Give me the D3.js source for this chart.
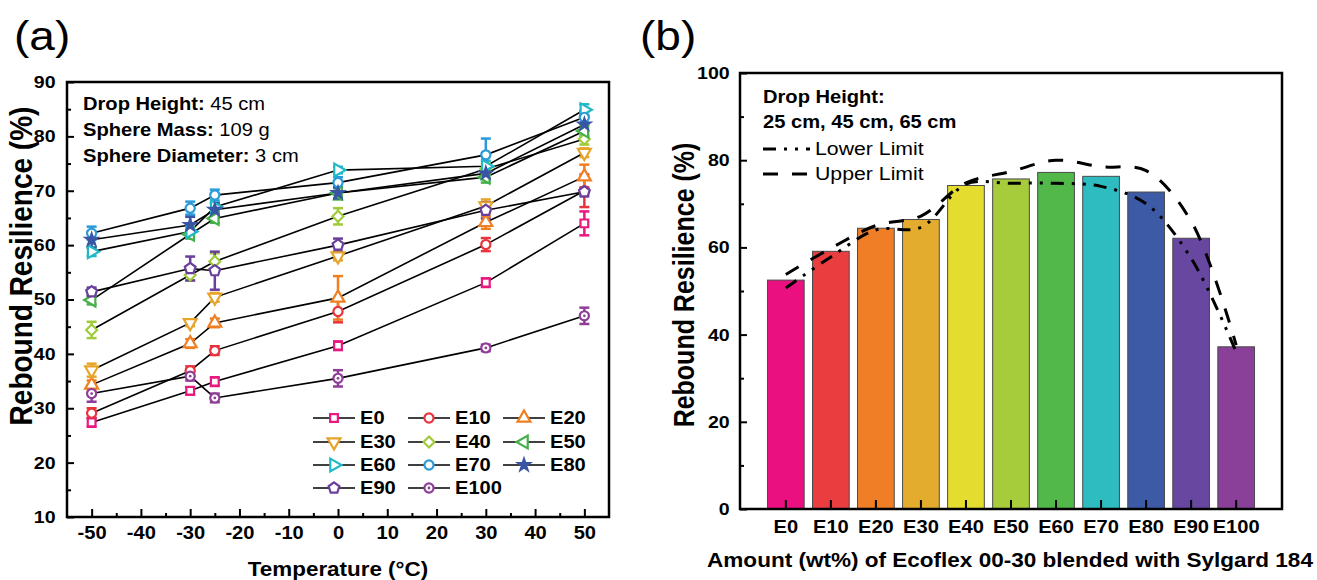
<!DOCTYPE html>
<html>
<head>
<meta charset="utf-8">
<script src="https://cdn.jsdelivr.net/npm/d3@7"></script>
<style>
body { margin: 0; background: #fff; }
svg { display: block; font-family: "Liberation Sans", Arial, sans-serif; }
</style>
</head>
<body>
<svg id="chart" width="1317" height="580"></svg>
<script>
'use strict';

/***************************************
 * DATA - panel (a): rebound resilience vs temperature
 ***************************************/
var temperatures = [-50, -30, -25, 0, 30, 50];

var E0   = [27.4, 33.2, 34.9, 41.5, 53.1, 64.0];
var E10  = [29.1, 36.9, 40.6, 47.8, 60.1, 70.0];
var E20  = [34.3, 41.9, 45.7, 50.3, 64.2, 72.6];
var E30  = [37.0, 45.7, 50.4, 58.0, 67.2, 77.0];
var E40  = [44.4, 54.5, 57.0, 65.3, 74.0, 79.5];
var E50  = [49.9, 62.0, 64.9, 69.6, 72.5, 81.0];
var E60  = [58.8, 62.5, 67.0, 73.8, 74.5, 84.9];
var E70  = [62.2, 66.8, 69.2, 71.5, 76.6, 83.5];
var E80  = [61.0, 63.7, 66.5, 69.6, 73.2, 82.2];
var E90  = [51.4, 55.7, 55.3, 60.0, 66.4, 69.8];
var E100 = [32.7, 35.9, 31.9, 35.5, 41.1, 47.0];

//error bar half-widths
var E0err   = [0.8, 0.7, 0.8, 0.8, 0.8, 2.2];
var E10err  = [0.9, 0.8, 0.8, 2.0, 1.2, 3.0];
var E20err  = [0.8, 0.8, 0.8, 4.0, 1.2, 2.2];
var E30err  = [1.2, 0.6, 0.8, 0.8, 1.2, 0.8];
var E40err  = [1.5, 1.0, 1.5, 1.5, 1.0, 1.0];
var E50err  = [0.8, 0.8, 0.8, 1.2, 1.0, 1.0];
var E60err  = [0.8, 0.8, 0.8, 0.6, 1.0, 1.0];
var E70err  = [1.2, 1.2, 1.0, 1.0, 3.0, 1.0];
var E80err  = [1.5, 1.5, 1.2, 1.0, 1.0, 2.5];
var E90err  = [0.8, 2.2, 3.5, 1.2, 1.5, 0.8];
var E100err = [1.5, 0.8, 0.8, 1.5, 0.6, 1.5];

var seriesNames = ['E0','E10','E20','E30','E40','E50','E60','E70','E80','E90','E100'];
var seriesValues = [E0, E10, E20, E30, E40, E50, E60, E70, E80, E90, E100];
var seriesErrors = [E0err, E10err, E20err, E30err, E40err, E50err, E60err, E70err, E80err, E90err, E100err];
var seriesColors = ['#e8197f','#e8343c','#f07f22','#e6a52a','#9fcb3a','#45b04a',
	'#22b9c6','#2b9ad8','#3a55a4','#6a3f9b','#8e3e96'];
var seriesShapes = ['square','circle','up','down','diamond','left','right','circle','star','pentagon','dotcircle'];

/***************************************
 * DATA - panel (b): rebound resilience per blend
 ***************************************/
var blends = ['E0','E10','E20','E30','E40','E50','E60','E70','E80','E90','E100'];
var meanResilience = [52.5, 59.1, 64.4, 66.4, 74.2, 75.7, 77.2, 76.3, 72.7, 62.1, 37.2];
var lowerLimit = [50.7, 57.8, 64.0, 64.6, 74.5, 74.7, 74.7, 74.0, 70.0, 57.5, 36.0];
var upperLimit = [53.8, 59.8, 65.0, 67.2, 74.8, 77.4, 80.0, 78.5, 77.6, 66.0, 37.6];
var barColors = ['#ea107f','#ea3d3f','#ef7e27','#e3ac2e','#e4dc2f','#a7cc3b',
	'#52b84a','#2ebcc0','#3d5aa7','#6747a0','#8a3f98'];

/***************************************
 * COMMON
 ***************************************/
var FONT = '"Liberation Sans", Arial, sans-serif';
var SX = 1.15; //source figure is a bit wider than tall, stretch text to match
var svg = d3.select('#chart');

//put a text at x,y with horizontal stretch
function placeText(g, x, y, txt, size, weight, anchor) {
	return g.append('text')
		.attr('transform', 'translate(' + x + ',' + y + ') scale(' + SX + ',1)')
		.attr('text-anchor', anchor || 'start')
		.style('font-size', size + 'px')
		.style('font-weight', weight || 'normal')
		.text(txt);
}

//rotated axis title, stretched across the glyphs
function placeYTitle(g, x, y, txt, size) {
	return g.append('text')
		.attr('transform', 'translate(' + x + ',' + y + ') rotate(-90) scale(1,' + SX + ')')
		.attr('text-anchor', 'middle')
		.style('font-size', size + 'px').style('font-weight', 'bold')
		.text(txt);
}

//style axis: no domain, thick ticks, bold labels
function styleAxis(g, size) {
	g.select('.domain').remove();
	g.attr('font-family', FONT);
	g.selectAll('.tick line').attr('stroke', '#000').attr('stroke-width', 2);
	g.selectAll('.tick text')
		.attr('fill', '#000')
		.style('font-size', size + 'px')
		.style('font-weight', 'bold');
}

//plain hyphen minus, like the source
function plainNum(d) { return String(d); }

/***************************************
 * MARKERS
 ***************************************/
var pentagonType = {
	draw: function(ctx, size) {
		var r = Math.sqrt(size / 2.378);
		for (var k = 0; k < 5; k++) {
			var ang = -Math.PI / 2 + k * 2 * Math.PI / 5;
			if (k === 0) ctx.moveTo(r * Math.cos(ang), r * Math.sin(ang));
			else ctx.lineTo(r * Math.cos(ang), r * Math.sin(ang));
		}
		ctx.closePath();
	}
};

function drawMarker(g, shape, color, x, y) {
	var m = g.append('g').attr('transform', 'translate(' + x + ',' + y + ')');
	var sym = d3.symbol();
	var rot = 0;
	if (shape === 'square') sym.type(d3.symbolSquare).size(60);
	else if (shape === 'circle') sym.type(d3.symbolCircle).size(66);
	else if (shape === 'dotcircle') sym.type(d3.symbolCircle).size(66);
	else if (shape === 'diamond') sym.type(d3.symbolDiamond2).size(76);
	else if (shape === 'star') sym.type(d3.symbolStar).size(40);
	else if (shape === 'pentagon') sym.type(pentagonType).size(76);
	else {
		sym.type(d3.symbolTriangle).size(72);
		rot = {up: 0, down: 180, left: -90, right: 90}[shape];
	}
	m.append('path')
		.attr('d', sym())
		.attr('transform', 'rotate(' + rot + ')')
		.attr('fill', shape === 'star' ? color : '#fff')
		.attr('stroke', color)
		.attr('stroke-width', 2.2);
	if (shape === 'dotcircle')
		m.append('circle').attr('r', 1.4).attr('fill', color);
	return m;
}

/***************************************
 * PANEL (a)
 ***************************************/
var aBox = {left: 67, right: 609, top: 82, bottom: 517};
var xA = d3.scaleLinear().domain([-55, 55]).range([aBox.left, aBox.right]);
var yA = d3.scaleLinear().domain([10, 90]).range([aBox.bottom, aBox.top]);
var gA = svg.append('g');

//x axis, ticks pointing inward
var xAxisA = gA.append('g').attr('transform', 'translate(0,' + aBox.bottom + ')')
	.call(d3.axisBottom(xA).tickValues(d3.range(-50, 51, 10)).tickFormat(plainNum).tickSize(-8).tickPadding(10));
styleAxis(xAxisA, 17.5);
xAxisA.selectAll('.tick text').attr('transform', 'scale(' + SX + ',1)');
gA.append('g').attr('transform', 'translate(0,' + aBox.bottom + ')')
	.call(d3.axisBottom(xA).tickValues(d3.range(-45, 50, 10)).tickSize(-4).tickFormat(''))
	.call(function(g) { styleAxis(g, 17); });

//y axis
var yAxisA = gA.append('g').attr('transform', 'translate(' + aBox.left + ',0)')
	.call(d3.axisLeft(yA).tickValues(d3.range(10, 91, 10)).tickFormat(plainNum).tickSize(-7).tickPadding(10));
styleAxis(yAxisA, 17);
yAxisA.selectAll('.tick text').attr('transform', 'scale(' + SX + ',1)');
gA.append('g').attr('transform', 'translate(' + aBox.left + ',0)')
	.call(d3.axisLeft(yA).tickValues(d3.range(15, 90, 10)).tickSize(-4).tickFormat(''))
	.call(function(g) { styleAxis(g, 17); });

//connecting lines
var lineA = d3.line()
	.x(function(d, i) { return xA(temperatures[i]); })
	.y(function(d) { return yA(d); });
seriesValues.forEach(function(vals) {
	gA.append('path').attr('d', lineA(vals))
		.attr('fill', 'none').attr('stroke', '#000').attr('stroke-width', 1.6);
});

//error bars
seriesValues.forEach(function(vals, s) {
	vals.forEach(function(v, i) {
		var x = xA(temperatures[i]);
		var e = seriesErrors[s][i];
		var eg = gA.append('g').attr('stroke', seriesColors[s]).attr('stroke-width', 2.5);
		eg.append('line').attr('x1', x).attr('x2', x).attr('y1', yA(v - e)).attr('y2', yA(v + e));
		eg.append('line').attr('x1', x - 5).attr('x2', x + 5).attr('y1', yA(v - e)).attr('y2', yA(v - e));
		eg.append('line').attr('x1', x - 5).attr('x2', x + 5).attr('y1', yA(v + e)).attr('y2', yA(v + e));
	});
});

//markers
seriesValues.forEach(function(vals, s) {
	vals.forEach(function(v, i) {
		drawMarker(gA, seriesShapes[s], seriesColors[s], xA(temperatures[i]), yA(v));
	});
});

//frame
gA.append('rect')
	.attr('x', aBox.left).attr('y', aBox.top)
	.attr('width', aBox.right - aBox.left).attr('height', aBox.bottom - aBox.top)
	.attr('fill', 'none').attr('stroke', '#000').attr('stroke-width', 2.5);

//legend: 3 columns x 4 rows
var legX = [313, 408, 503];
var legY = [418, 442, 465, 488];
seriesNames.forEach(function(name, s) {
	var lx = legX[s % 3], ly = legY[Math.floor(s / 3)];
	gA.append('line').attr('x1', lx).attr('x2', lx + 42).attr('y1', ly).attr('y2', ly)
		.attr('stroke', '#000').attr('stroke-width', 1.6);
	drawMarker(gA, seriesShapes[s], seriesColors[s], lx + 21, ly);
	placeText(gA, lx + 47, ly + 6, name, 17.5, 'bold');
});

//annotation
var infoA = [['Drop Height:', ' 45 cm'], ['Sphere Mass:', ' 109 g'], ['Sphere Diameter:', ' 3 cm']];
infoA.forEach(function(row, i) {
	var t = placeText(gA, 83, 110 + i * 26, '', 17.5);
	t.append('tspan').style('font-weight', 'bold').text(row[0]);
	t.append('tspan').text(row[1]);
});

//titles
placeText(gA, 14, 50, '(a)', 40);
placeText(gA, (aBox.left + aBox.right) / 2, 576, 'Temperature (\u00B0C)', 19.5, 'bold', 'middle');
placeYTitle(gA, 32, 266, 'Rebound Resilience (%)', 28);

/***************************************
 * PANEL (b)
 ***************************************/
var bBox = {left: 740, right: 1282, top: 73, bottom: 509};
var xB = d3.scaleBand().domain(blends).range([bBox.left, bBox.right])
	.paddingInner(0.185).paddingOuter(0.61);
var yB = d3.scaleLinear().domain([0, 100]).range([bBox.bottom, bBox.top]);
var gB = svg.append('g');

//bars
gB.selectAll('rect.bar').data(meanResilience).enter().append('rect')
	.attr('class', 'bar')
	.attr('x', function(d, i) { return xB(blends[i]); })
	.attr('width', xB.bandwidth())
	.attr('y', function(d) { return yB(d); })
	.attr('height', function(d) { return yB(0) - yB(d); })
	.attr('fill', function(d, i) { return barColors[i]; })
	.attr('stroke', '#4a4a4a').attr('stroke-width', 1);

//x axis
var xAxisB = gB.append('g').attr('transform', 'translate(0,' + bBox.bottom + ')')
	.call(d3.axisBottom(xB).tickSize(-9).tickPadding(12));
styleAxis(xAxisB, 17.5);
xAxisB.selectAll('.tick text').attr('transform', 'scale(' + SX + ',1)');

//y axis
var yAxisB = gB.append('g').attr('transform', 'translate(' + bBox.left + ',0)')
	.call(d3.axisLeft(yB).tickValues(d3.range(0, 101, 20)).tickFormat(plainNum).tickSize(-7).tickPadding(9));
styleAxis(yAxisB, 17);
yAxisB.selectAll('.tick text').attr('transform', 'scale(' + SX + ',1)');
gB.append('g').attr('transform', 'translate(' + bBox.left + ',0)')
	.call(d3.axisLeft(yB).tickValues(d3.range(10, 100, 20)).tickSize(-4).tickFormat(''))
	.call(function(g) { styleAxis(g, 17); });

//limit curves
var lineB = d3.line()
	.x(function(d, i) { return xB(blends[i]) + xB.bandwidth() / 2; })
	.y(function(d) { return yB(d); })
	.curve(d3.curveCatmullRom.alpha(0.5));
var LOWER_DASH = '13,8,3,8,3,8';
var UPPER_DASH = '15,14';
gB.append('path').attr('d', lineB(lowerLimit))
	.attr('fill', 'none').attr('stroke', '#000').attr('stroke-width', 3)
	.attr('stroke-dasharray', LOWER_DASH);
gB.append('path').attr('d', lineB(upperLimit))
	.attr('fill', 'none').attr('stroke', '#000').attr('stroke-width', 3)
	.attr('stroke-dasharray', UPPER_DASH);

//frame
gB.append('rect')
	.attr('x', bBox.left).attr('y', bBox.top)
	.attr('width', bBox.right - bBox.left).attr('height', bBox.bottom - bBox.top)
	.attr('fill', 'none').attr('stroke', '#000').attr('stroke-width', 2.5);

//annotation + legend
placeText(gB, 763, 103, 'Drop Height:', 17.5, 'bold');
placeText(gB, 763, 128, '25 cm, 45 cm, 65 cm', 17.5, 'bold');
gB.append('line').attr('x1', 763).attr('x2', 810).attr('y1', 149).attr('y2', 149)
	.attr('stroke', '#000').attr('stroke-width', 3).attr('stroke-dasharray', LOWER_DASH);
placeText(gB, 815, 155, 'Lower Limit', 18.5);
gB.append('line').attr('x1', 763).attr('x2', 812).attr('y1', 174).attr('y2', 174)
	.attr('stroke', '#000').attr('stroke-width', 3).attr('stroke-dasharray', UPPER_DASH);
placeText(gB, 815, 180, 'Upper Limit', 18.5);

//titles
placeText(gB, 640, 50, '(b)', 40);
placeText(gB, 1010, 567, 'Amount (wt%) of Ecoflex 00-30 blended with Sylgard 184', 19.6, 'bold', 'middle');
placeYTitle(gB, 694, 285, 'Rebound Resilience (%)', 25);
</script>
</body>
</html>
